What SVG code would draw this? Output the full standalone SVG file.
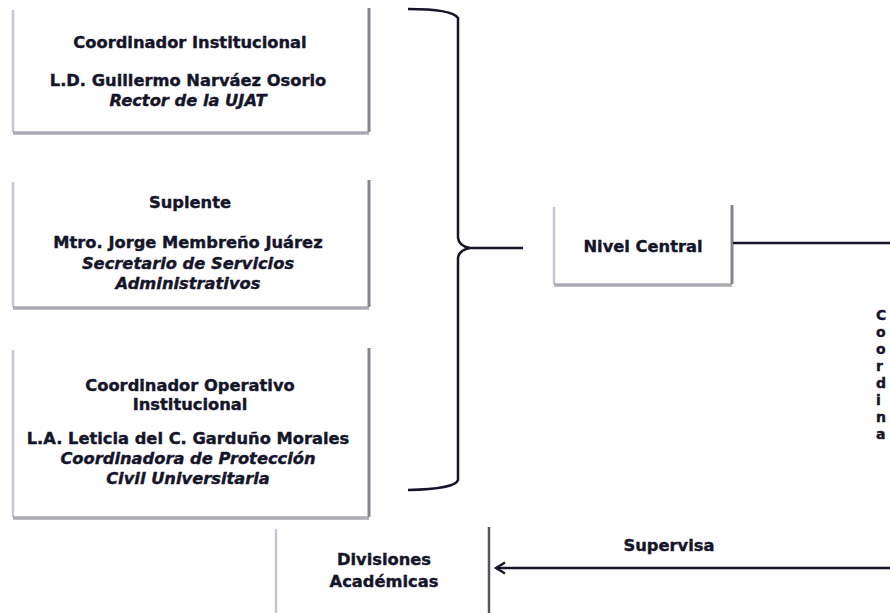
<svg xmlns="http://www.w3.org/2000/svg" width="890" height="613" viewBox="0 0 890 613">
<defs>
<style>
text{font-family:"DejaVu Sans","Liberation Sans",sans-serif;font-weight:bold;fill:#15152a;stroke:#15152a;stroke-width:0.4;text-anchor:middle;font-size:16.3px}
.it{font-style:italic}
.vt{text-anchor:start;font-size:14px}
.bg{fill:#ffffff}
.lb{stroke:#c4c7d6;stroke-width:2.5;fill:none}
.rb{stroke:#85858f;stroke-width:3;fill:none}
.bb{stroke:#8f8f99;stroke-width:3.5;fill:none;opacity:0.75}
.wire{stroke:#15152a;stroke-width:2.5;fill:none}
</style>
<marker id="arr" markerWidth="14" markerHeight="14" refX="11" refY="7" orient="auto" markerUnits="userSpaceOnUse">
<path d="M2,1.5 L11,7 L2,12.5" fill="none" stroke="#15152a" stroke-width="2.4"/>
</marker>
</defs>
<rect width="890" height="613" fill="#ffffff"/>

<g id="coordinador">
<rect class="bg" x="12" y="8" width="358" height="125"/>
<line class="lb" x1="13" y1="10" x2="13" y2="132"/>
<line class="rb" x1="369" y1="8" x2="369" y2="132"/>
<line class="bb" x1="13" y1="133" x2="369" y2="133"/>
<text x="190" y="48">Coordinador Institucional</text>
<text x="188" y="86">L.D. Guillermo Narváez Osorio</text>
<text x="188" y="106" class="it">Rector de la UJAT</text>
</g>

<g id="suplente">
<rect class="bg" x="12" y="180" width="358" height="128"/>
<line class="lb" x1="13" y1="182" x2="13" y2="307"/>
<line class="rb" x1="369" y1="180" x2="369" y2="307"/>
<line class="bb" x1="13" y1="308" x2="369" y2="308"/>
<text x="190" y="208">Suplente</text>
<text x="188" y="248">Mtro. Jorge Membreño Juárez</text>
<text x="188" y="269" class="it">Secretario de Servicios</text>
<text x="188" y="289" class="it">Administrativos</text>
</g>

<g id="operativo">
<rect class="bg" x="12" y="348" width="358" height="170"/>
<line class="lb" x1="13" y1="350" x2="13" y2="517"/>
<line class="rb" x1="369" y1="348" x2="369" y2="517"/>
<line class="bb" x1="13" y1="518" x2="369" y2="518"/>
<text x="190" y="391">Coordinador Operativo</text>
<text x="190" y="410">Institucional</text>
<text x="188" y="444">L.A. Leticia del C. Garduño Morales</text>
<text x="188" y="464" class="it">Coordinadora de Protección</text>
<text x="188" y="484" class="it">Civil Universitaria</text>
</g>

<g id="nivel-central">
<rect class="bg" x="553" y="205" width="180" height="80"/>
<line class="lb" x1="554" y1="207" x2="554" y2="284"/>
<line class="rb" x1="732" y1="205" x2="732" y2="284"/>
<line class="bb" x1="554" y1="285" x2="732" y2="285"/>
<text x="643" y="252">Nivel Central</text>
</g>

<g id="divisiones">
<rect class="bg" x="275" y="527" width="215" height="90"/>
<line class="lb" x1="276" y1="529" x2="276" y2="613"/>
<line stroke="#555560" stroke-width="2.5" x1="489" y1="527" x2="489" y2="613"/>
<text x="384" y="565">Divisiones</text>
<text x="384" y="587">Académicas</text>
</g>

<g id="coordina-label">
<text class="vt" x="876" y="320">C</text>
<text class="vt" x="876" y="337">o</text>
<text class="vt" x="876" y="354">o</text>
<text class="vt" x="876" y="371">r</text>
<text class="vt" x="876" y="388">d</text>
<text class="vt" x="876" y="405">i</text>
<text class="vt" x="876" y="422">n</text>
<text class="vt" x="876" y="439">a</text>
</g>

<g id="connectors">
<path class="wire" d="M408,9 Q452,9 458,18 L458,238 Q459,246 470,248 L523,248 M470,248 Q459,250 458,258 L458,480 Q455,489 408,490"/>
<line class="wire" x1="733" y1="243" x2="890" y2="243"/>
<line class="wire" x1="890" y1="568" x2="496" y2="568" marker-end="url(#arr)"/>
<text x="669" y="551">Supervisa</text>
</g>
</svg>
